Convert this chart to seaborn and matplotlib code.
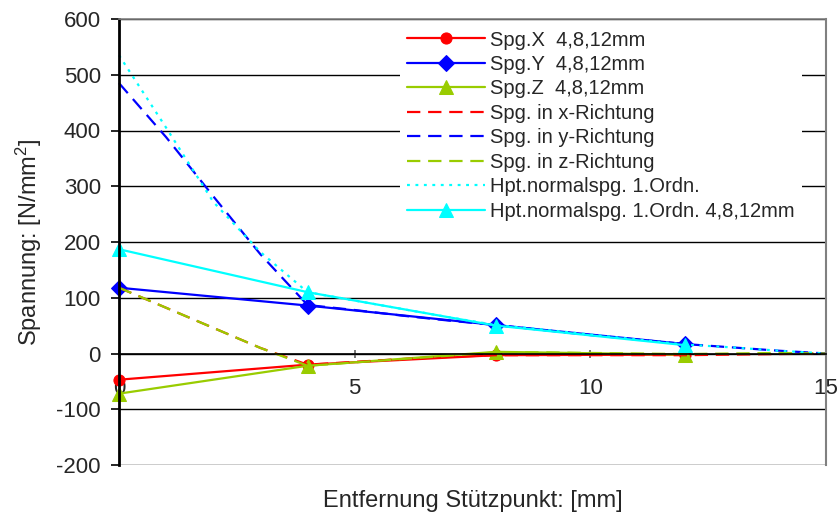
import matplotlib
matplotlib.use("Agg")
import matplotlib.pyplot as plt
import seaborn as sns
import pandas as pd
import numpy as np

# ---- data ----
x_meas = [0, 4, 8, 12]
spg_x = [-47, -20, -3, -2]
spg_y = [118, 86, 51, 17]
spg_z = [-72, -22, 3, -2]
hpt_meas = [187, 110, 50, 15]

x_fine = [0, 1, 2, 3, 4, 5, 6, 7, 8, 9, 10, 11, 12, 13, 14, 15]
dir_x = [118, 82, 46, 10, -20, -15, -10, -6, -3, -3, -3, -3, -3, -2, -1, 0]
dir_y = [485, 388, 282, 178, 87, 78, 68, 59, 51, 42, 33, 25, 17, 11, 5, 0]
dir_z = [118, 82, 46, 10, -22, -16, -10, -4, 2, 2, 1, 0, -1, 0, 1, 0]
hpt_fine = [535, 405, 272, 182, 110, 95, 80, 65, 51, 43, 34, 25, 16, 11, 5, 0]

labels = ["Spg.X  4,8,12mm", "Spg.Y  4,8,12mm", "Spg.Z  4,8,12mm",
          "Spg. in x-Richtung", "Spg. in y-Richtung", "Spg. in z-Richtung",
          "Hpt.normalspg. 1.Ordn.", "Hpt.normalspg. 1.Ordn. 4,8,12mm"]
xticks = [0, 5, 10, 15]
yticks = [-200, -100, 0, 100, 200, 300, 400, 500, 600]

RED, BLUE, GREEN, CYAN = "#FF0000", "#0000FF", "#99CC00", "#00FFFF"

sns.set_style("white")
plt.rcParams["font.family"] = ["Liberation Sans", "DejaVu Sans"]
plt.rcParams["mathtext.fontset"] = "custom"
plt.rcParams["mathtext.rm"] = "Liberation Sans"
plt.rcParams["mathtext.it"] = "Liberation Sans"

fig = plt.figure(figsize=(8.39, 5.21), dpi=100)
ax = fig.add_axes([119/839, 1-465/521, (826-119)/839, (465-19)/521])

lw = 1.6
dash = (6, 3.5)
dot = (1.3, 2.5)

def line(xv, yv, color, label, marker=None, ms=8, dashes=None):
    df = pd.DataFrame({"x": xv, "y": yv})
    kw = dict(color=color, label=label, linewidth=lw, ax=ax)
    if marker:
        kw.update(marker=marker, markersize=ms, markeredgecolor=color, markerfacecolor=color)
    sns.lineplot(data=df, x="x", y="y", **kw)
    ln = ax.lines[-1]
    if dashes is not None:
        ln.set_dashes(dashes)
    ln.set_clip_on(False)
    return ln

line(x_meas, spg_x, RED, labels[0], marker="o", ms=8)
line(x_meas, spg_y, BLUE, labels[1], marker="D", ms=8)
line(x_meas, spg_z, GREEN, labels[2], marker="^", ms=10)
line(x_fine, dir_x, RED, labels[3], dashes=dash)
line(x_fine, dir_y, BLUE, labels[4], dashes=dash)
line(x_fine, dir_z, GREEN, labels[5], dashes=dash)
line(x_fine, hpt_fine, CYAN, labels[6], dashes=dot)
line(x_meas, hpt_meas, CYAN, labels[7], marker="^", ms=10)

ax.set_xlim(0, 15)
ax.set_ylim(-200, 600)
ax.set_yticks(yticks)
ax.set_yticklabels([str(v) for v in yticks])
ax.set_xticks(xticks)
ax.set_xticklabels([str(v) for v in xticks])

# horizontal grid
for v in yticks:
    ax.axhline(v, color="black", linewidth=1.0, zorder=0.5)

ax.spines["bottom"].set_position(("data", 0))
ax.spines["bottom"].set_linewidth(1.2)
ax.spines["bottom"].set_color("black")
ax.spines["left"].set_linewidth(2.0)
ax.spines["left"].set_color("black")
ax.spines["right"].set_color("#808080")
ax.spines["right"].set_linewidth(1.5)
ax.spines["top"].set_color("#808080")
ax.spines["top"].set_linewidth(1.2)

ax.tick_params(axis="y", direction="out", length=6, width=1.2, pad=7,
               labelsize=16, left=True, color="black")
ax.tick_params(axis="x", direction="inout", length=6, width=1.2, pad=15,
               labelsize=16, bottom=True, color="#606060")

ax.set_ylabel("Spannung: [N/mm$^2$]", fontsize=17, labelpad=9)
ax.set_xlabel("Entfernung Stützpunkt: [mm]", fontsize=17)
ax.xaxis.set_label_coords(0.5, -0.055)

leg = ax.legend(loc="upper left", bbox_to_anchor=(0.397, 0.99), borderaxespad=0,
                fontsize=14.5, handlelength=3.9, handletextpad=0.25, labelspacing=0.27,
                frameon=True, fancybox=False, framealpha=1, facecolor="white",
                edgecolor="none", borderpad=0.35, numpoints=1)
leg.set_zorder(5)

fig.savefig("out.png", dpi=100)
